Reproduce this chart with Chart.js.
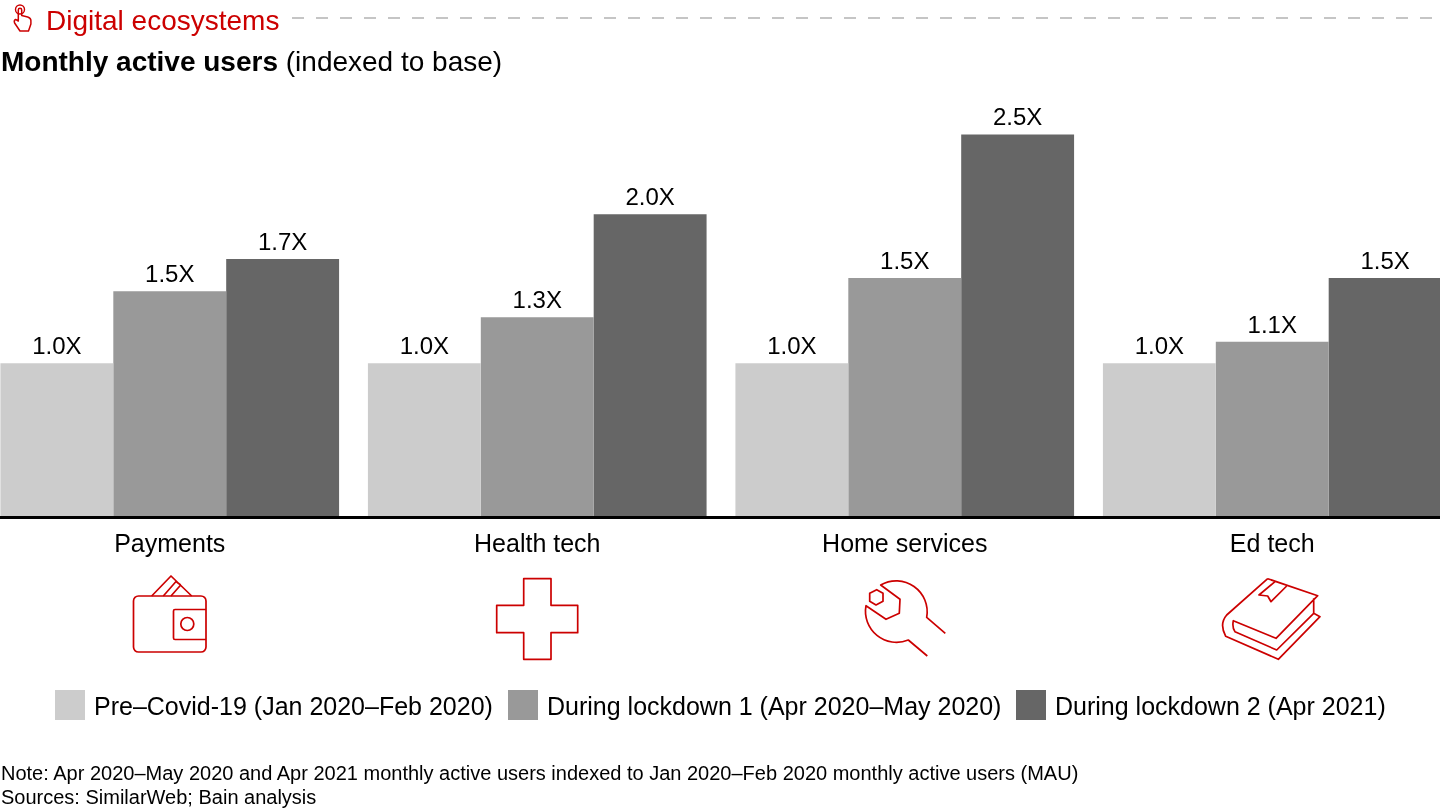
<!DOCTYPE html>
<html>
<head>
<meta charset="utf-8">
<script src="https://cdn.jsdelivr.net/npm/chart.js@4"></script>
<style>
  html, body { margin: 0; padding: 0; background: #fff; }
  body { width: 1440px; height: 810px; overflow: hidden; position: relative; font-family: "Liberation Sans", Arial, sans-serif; color: #000; }
  #wrap { position: absolute; left: -14px; top: 0; width: 1470px; height: 690px; }
  .abs { position: absolute; white-space: nowrap; }
  #section { left: 46px; top: 5px; font-size: 28px; line-height: 32px; color: #cc0000; }
  #title { left: 1px; top: 46px; font-size: 28px; line-height: 32px; }
  .note { left: 1px; font-size: 20px; line-height: 24px; }
  .swatch { position: absolute; top: 690px; width: 30px; height: 30px; }
  .legendText { position: absolute; top: 691px; font-size: 25px; line-height: 30px; white-space: nowrap; }
  svg { position: absolute; left: 0; top: 0; }
</style>
</head>
<body>
<div id="wrap"><canvas id="graph"></canvas></div>

<svg width="1440" height="810" fill="none" stroke="#cc0000" stroke-width="1.7" stroke-linejoin="round">
  <line x1="292" y1="18" x2="1440" y2="18" stroke="#b3b3b3" stroke-width="1.5" stroke-dasharray="12 12"/>
  <!-- hand -->
  <circle cx="20" cy="9.5" r="4.5" stroke-width="1.4"/>
  <path stroke-width="1.5" d="M18.3 21 V10 a1.7 1.7 0 0 1 3.4 0 V15.5 l6 1.5 q3.3 1 3.2 3.6 v3.4 l-2.4 7 H20 L14.6 23 q-1 -2.5 1 -3.6 z"/>
  <!-- wallet -->
  <rect x="133.5" y="596" width="72.5" height="56" rx="5"/>
  <path d="M206 609.5 H175 q-1.5 0 -1.5 1.5 V638 q0 1.5 1.5 1.5 H206"/>
  <circle cx="187.3" cy="624" r="6.5"/>
  <path d="M151.7 596 L171 576 L191.7 596 M163.3 596 L176 581.5 M171 596 L180.7 585 M176 581.5 L180.7 585"/>
  <!-- cross -->
  <path d="M523.7 578.7 H551 V605.3 H577.7 V632.7 H551 V659.3 H523.7 V632.7 H496.7 V605.3 H523.7 Z"/>
  <!-- wrench -->
  <path d="M945.3 633.3 L926.7 617.3 A31 31 0 0 0 880.7 585 L900 599.3 L899.3 613.3 L886 619.3 L866 605.7 A31 31 0 0 0 908.3 640 L927.3 656"/>
  <path d="M876.7 589.7 L883 593.3 V601.3 L876 605 L869.7 601.3 V593.3 Z"/>
  <!-- book -->
  <path d="M1267.7 578.7 L1317.7 595.7 L1276 638.3 L1233.3 620.7 Q1232 628 1235 631.7 L1276.7 650 L1313.7 613.3 V598.3 M1313.7 613.3 L1320 616.7 L1278.3 659.3 L1225.7 636.3 Q1219 624 1226.7 615 L1267.7 578.7"/>
  <path d="M1275 581.7 L1259 595 L1267.7 596 L1271 601.7 L1286.7 586"/>
</svg>

<div id="section" class="abs">Digital ecosystems</div>
<div id="title" class="abs"><b>Monthly active users</b> (indexed to base)</div>

<div id="legend"></div>

<div class="abs note" style="top:761px">Note: Apr 2020–May 2020 and Apr 2021 monthly active users indexed to Jan 2020–Feb 2020 monthly active users (MAU)</div>
<div class="abs note" style="top:785px">Sources: SimilarWeb; Bain analysis</div>

<script>
const categories = ['Payments', 'Health tech', 'Home services', 'Ed tech'];
const seriesNames = [
  'Pre–Covid-19 (Jan 2020–Feb 2020)',
  'During lockdown 1 (Apr 2020–May 2020)',
  'During lockdown 2 (Apr 2021)'
];
const preCovid = [1.0, 1.0, 1.0, 1.0];
const lockdown1 = [1.47, 1.30, 1.555, 1.14];
const lockdown2 = [1.68, 1.97, 2.49, 1.555];
const preCovidLabels = ['1.0X', '1.0X', '1.0X', '1.0X'];
const lockdown1Labels = ['1.5X', '1.3X', '1.5X', '1.1X'];
const lockdown2Labels = ['1.7X', '2.0X', '2.5X', '1.5X'];
const colors = ['#cccccc', '#999999', '#666666'];
const legendLeft = [55, 508, 1016];

// draws the "1.5X" text above each bar
const barLabels = {
  id: 'barLabels',
  afterDatasetsDraw(chart) {
    const c = chart.ctx;
    c.save();
    c.font = '24px "Liberation Sans", Arial, sans-serif';
    c.fillStyle = '#000';
    c.textAlign = 'center';
    c.textBaseline = 'alphabetic';
    chart.data.datasets.forEach((ds, i) => {
      chart.getDatasetMeta(i).data.forEach((bar, j) => {
        c.fillText(ds.valueLabels[j], bar.x, bar.y - 9);
      });
    });
    c.restore();
  }
};

const chartOptions = {
  type: 'bar',
  data: {
    labels: categories,
    datasets: [
      { label: seriesNames[0], data: preCovid, backgroundColor: colors[0], valueLabels: preCovidLabels },
      { label: seriesNames[1], data: lockdown1, backgroundColor: colors[1], valueLabels: lockdown1Labels },
      { label: seriesNames[2], data: lockdown2, backgroundColor: colors[2], valueLabels: lockdown2Labels }
    ]
  },
  options: {
    responsive: false,
    animation: false,
    layout: { padding: { top: 10 } },
    datasets: {
      bar: { categoryPercentage: 0.9215, barPercentage: 1 }
    },
    scales: {
      x: {
        afterFit(axis) { axis.height = 173; },
        grid: { display: false, drawTicks: false },
        border: { color: '#000', width: 3, z: 1 },
        ticks: {
          color: '#000',
          padding: 13,
          maxRotation: 0,
          font: { size: 25, family: '"Liberation Sans", Arial, sans-serif' }
        }
      },
      y: { display: false, min: 0, max: 3.3 }
    },
    plugins: {
      legend: { display: false },
      tooltip: { enabled: false }
    }
  },
  plugins: [barLabels]
};

const canvas = document.getElementById('graph');
canvas.width = 1470;
canvas.height = 690;
const barChart = new Chart(canvas.getContext('2d'), chartOptions);

const legend = document.getElementById('legend');
seriesNames.forEach((name, i) => {
  const box = document.createElement('div');
  box.className = 'swatch';
  box.style.left = legendLeft[i] + 'px';
  box.style.background = colors[i];
  legend.appendChild(box);
  const text = document.createElement('div');
  text.className = 'legendText';
  text.style.left = (legendLeft[i] + 39) + 'px';
  text.textContent = name;
  legend.appendChild(text);
});
</script>
</body>
</html>
